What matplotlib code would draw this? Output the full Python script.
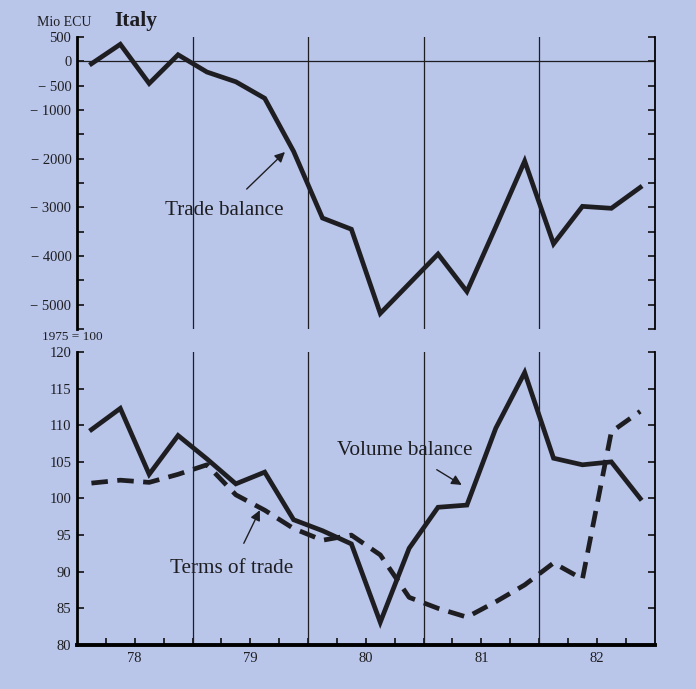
import numpy as np
import matplotlib
matplotlib.use("Agg")
from matplotlib import pyplot as plt

plt.rcParams['font.family'] = ['Liberation Serif', 'DejaVu Serif']

# quarterly data 1978Q1 .. 1982Q4
years = ['78', '79', '80', '81', '82']
trade_balance = [-50, 350, -455, 135, -220, -420, -760, -1850,
                 -3220, -3450, -5180, -4570, -3960, -4730, -3400, -2050,
                 -3750, -2980, -3020, -2590]
volume_balance = [109.4, 112.3, 103.3, 108.6, 105.4, 102.0, 103.6, 97.1,
                  95.6, 93.8, 83.1, 93.2, 98.8, 99.1, 109.6, 117.2,
                  105.5, 104.6, 105.0, 100.0]
terms_of_trade = [102.1, 102.5, 102.2, 103.3, 104.6, 100.5, 98.4, 95.9,
                  94.3, 95.0, 92.3, 86.5, 85.0, 83.8, 85.9, 88.2,
                  91.2, 89.0, 109.1, 111.9]
top_ticks = [500, 0, -500, -1000, -2000, -3000, -4000, -5000]
bottom_ticks = [120, 115, 110, 105, 100, 95, 90, 85, 80]

bg = '#b9c5e9'
ink = '#1e1e22'

x = np.arange(len(trade_balance)) + 0.5

fig = plt.figure(figsize=(6.96, 6.89), dpi=100, facecolor=bg)
ax1 = fig.add_axes([0.1106, 0.5225, 0.830, 0.4238], facecolor=bg)
ax2 = fig.add_axes([0.1106, 0.0639, 0.830, 0.4252], facecolor=bg)

#----top panel-----
ax1.plot(x, trade_balance, color=ink, lw=3.4, solid_joinstyle='miter', zorder=3)
ax1.axhline(0, color=ink, lw=0.9)
for v in [4, 8, 12, 16]:
    ax1.axvline(v, color=ink, lw=0.9)
ax1.set_xlim(0, 20)
ax1.set_ylim(-5500, 500)
ax1.set_xticks([])
yt = list(range(-5500, 501, 500))
ax1.set_yticks(yt)
lab = []
for t in yt:
    if t in top_ticks:
        lab.append(str(t) if t >= 0 else '\u2212 ' + str(-t))
    else:
        lab.append('')
ax1.set_yticklabels(lab)
ax1.tick_params(axis='y', direction='in', length=5, width=1.3, right=True,
                labelsize=10.5, pad=4, colors=ink)
ax1.spines['top'].set_visible(False)
ax1.spines['bottom'].set_visible(False)
ax1.spines['left'].set_linewidth(2.0)
ax1.spines['right'].set_linewidth(1.3)
ax1.annotate('Trade balance', xy=(7.2, -1863), xytext=(5.09, -3075),
             ha='center', va='center', fontsize=15.2, color=ink,
             arrowprops=dict(arrowstyle='-|>', color=ink, lw=1.0,
                             mutation_scale=15, shrinkA=10, shrinkB=0))

#----bottom panel-----
ax2.plot(x, volume_balance, color=ink, lw=3.4, solid_joinstyle='miter', zorder=3)
ax2.plot(x, terms_of_trade, color=ink, lw=3.4, dashes=(3.5, 2.0),
         dash_capstyle='butt', zorder=3)
for v in [4, 8, 12, 16]:
    ax2.axvline(v, color=ink, lw=0.9)
ax2.set_xlim(0, 20)
ax2.set_ylim(80, 120)
ax2.set_yticks(bottom_ticks)
ax2.set_yticklabels([str(t) for t in bottom_ticks])
ax2.tick_params(axis='y', direction='in', length=5, width=1.3, right=True,
                labelsize=10.5, pad=4, colors=ink)
ax2.set_xticks(np.arange(1, 20))
ax2.set_xticklabels(['' if (i - 2) % 4 else years[(i - 2) // 4] for i in range(1, 20)])
ax2.tick_params(axis='x', direction='in', length=5, width=1.3,
                labelsize=10.5, pad=5, colors=ink)
ax2.spines['top'].set_visible(False)
ax2.spines['bottom'].set_linewidth(2.8)
ax2.spines['left'].set_linewidth(2.0)
ax2.spines['right'].set_linewidth(1.3)
ax2.annotate('Volume balance', xy=(13.32, 101.85), xytext=(11.35, 106.6),
             ha='center', va='center', fontsize=15.2, color=ink,
             arrowprops=dict(arrowstyle='-|>', color=ink, lw=1.0,
                             mutation_scale=15, shrinkA=10, shrinkB=0))
ax2.annotate('Terms of trade', xy=(6.33, 98.4), xytext=(5.36, 90.5),
             ha='center', va='center', fontsize=15.2, color=ink,
             arrowprops=dict(arrowstyle='-|>', color=ink, lw=1.0,
                             mutation_scale=15, shrinkA=10, shrinkB=0))

# header texts
fig.text(64 / 696, 1 - 22 / 689, 'Mio ECU', ha='center', va='center',
         fontsize=10, color=ink)
fig.text(136 / 696, 1 - 21 / 689, 'Italy', ha='center', va='center',
         fontsize=15.5, fontweight='bold', color=ink)
fig.text(72 / 696, 1 - 337 / 689, '1975 = 100', ha='center', va='center',
         fontsize=9.5, color=ink)

fig.savefig('out.png', dpi=100, facecolor=bg)
